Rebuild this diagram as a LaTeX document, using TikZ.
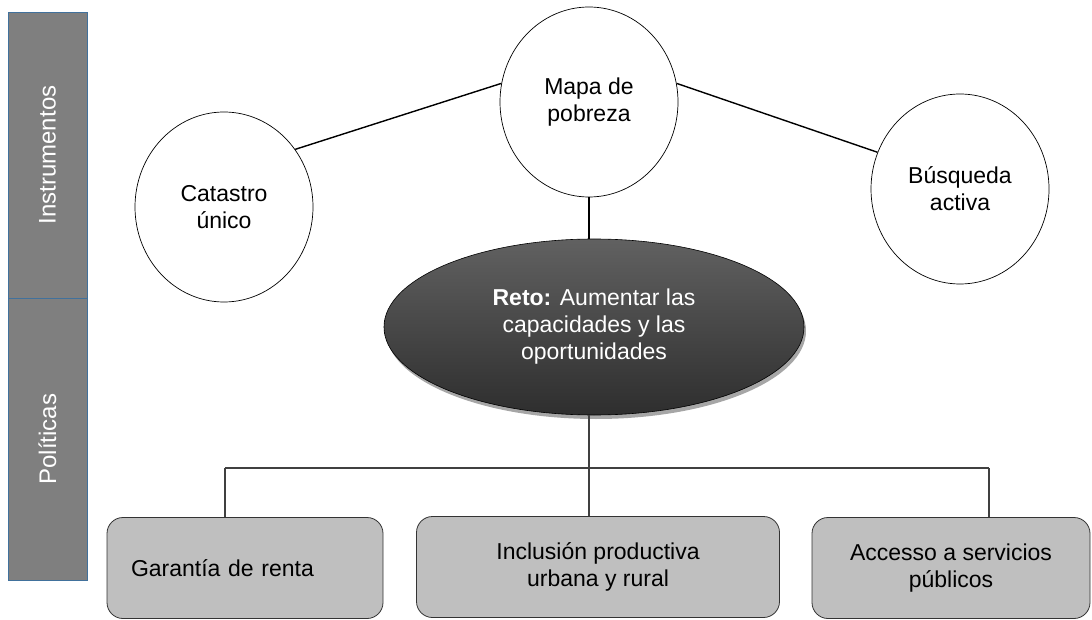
\documentclass[tikz,border=0pt]{standalone}
\usepackage{fontspec}
\setmainfont{Liberation Sans}
\usetikzlibrary{shapes.geometric,shadows}
\definecolor{barfill}{HTML}{7F7F7F}
\definecolor{barline}{HTML}{41719C}
\definecolor{boxfill}{HTML}{BFBFBF}
\begin{document}
\begin{tikzpicture}[x=1pt,y=-1pt,
  txt/.style={font=\fontsize{23}{27}\selectfont},
  bar/.style={draw=barline, line width=0.8pt, fill=barfill, text=white, rotate=90,
    inner sep=0pt, font=\fontsize{24}{28}\selectfont},
  circ/.style={ellipse, draw=black, line width=0.7pt, fill=white, inner sep=0pt,
    minimum width=178pt, minimum height=190pt, align=center, txt},
  retobox/.style={ellipse, draw=black, line width=0.6pt, top color=black!62, bottom color=black!82,
    text=white, inner sep=0pt, minimum width=420pt, minimum height=176pt, align=center, txt,
    drop shadow={shadow xshift=2pt, shadow yshift=-4pt, fill=black!35, opacity=1}},
  polbox/.style={rectangle, rounded corners=16pt, draw=black!80, line width=0.8pt, fill=boxfill,
    inner sep=0pt, minimum height=101pt, align=center, txt},
  link/.style={draw=black, line width=1.4pt},
  tree/.style={draw=black!75, line width=1.1pt}
]
\useasboundingbox (0,0) rectangle (1092,620);

% side bars
\node[bar, minimum width=286pt, minimum height=79pt] (instr) at (47.5,155) {Instrumentos};
\node[bar, minimum width=282pt, minimum height=79pt] (polit) at (47.5,439) {Políticas};

% instrument circles
\node[circ] (cat) at (224,207) {Catastro\\único};
\node[circ] (mapa) at (589,102) {Mapa de\\pobreza};
\node[circ] (busq) at (960,189) {Búsqueda\\activa};

\draw[link] (cat.39) -- (mapa.168);
\draw[link] (mapa.12) -- (busq.156);

% challenge
\node[retobox] (reto) at (594,327) {\textbf{Reto:} Aumentar las\\capacidades y las\\oportunidades};
\draw[link, line width=1.2pt] (mapa.south) -- (mapa.south |- reto.north);

% policy boxes
\node[polbox, minimum width=276pt, text width=228pt, inner xsep=24pt, align=left] (gar) at (245,568) {Garantía de renta};
\node[polbox, minimum width=363pt] (inc) at (598,567) {Inclusión productiva\\urbana y rural};
\node[polbox, minimum width=278pt] (acc) at (951,568) {Accesso a servicios\\públicos};

\coordinate (jL) at (225,468);
\coordinate (jM) at (589,468);
\coordinate (jR) at (989,468);
\draw[tree] (jL) -- (jR);
\draw[tree] (jM |- reto.south) -- (jM);
\draw[tree] (jL) -- (jL |- gar.north);
\draw[tree] (jM) -- (jM |- inc.north);
\draw[tree] (jR) -- (jR |- acc.north);
\end{tikzpicture}
\end{document}
